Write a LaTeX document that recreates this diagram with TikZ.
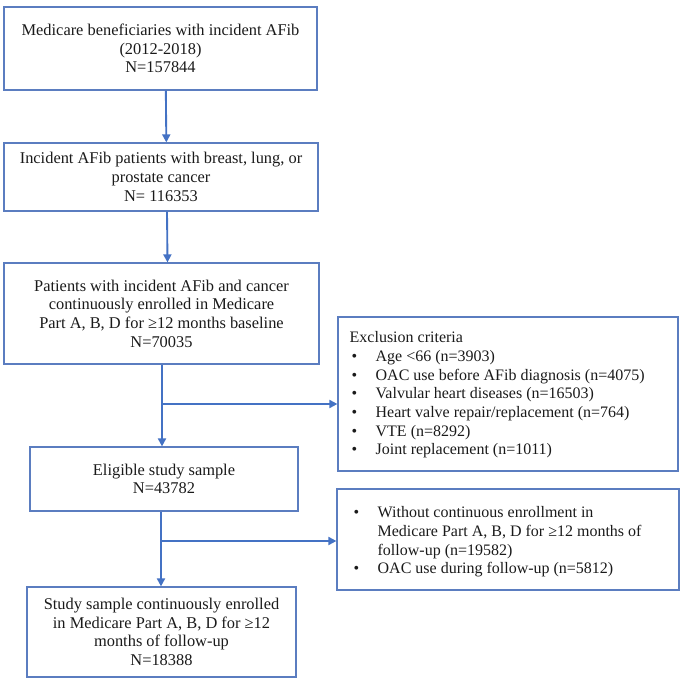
\documentclass[tikz,border=0pt]{standalone}
\usepackage{fontspec}
\setmainfont{Liberation Serif}
\usetikzlibrary{arrows.meta,positioning,calc}
\definecolor{ink}{HTML}{1A1A1A}
\definecolor{boxline}{HTML}{5B7DC0}
\definecolor{arrowblue}{HTML}{4472C4}
\newcommand{\exitem}[1]{\makebox[19.5pt][l]{\hspace{1.5pt}\textbullet}#1}
\tikzset{
  stagebox/.style={draw=boxline,line width=0.9pt,inner sep=0pt,
                   align=center,text=ink,font=\rmfamily\fontsize{12.3}{14}\selectfont},
  exclbox/.style={draw=boxline,line width=0.9pt,inner sep=0pt},
  excltext/.style={inner sep=0pt,align=left,anchor=north west,
                   text=ink,font=\rmfamily\fontsize{12}{14}\selectfont},
  flowarr/.style={-{Triangle[length=6pt,width=6pt]},line width=1.4pt,color=arrowblue}
}

\begin{document}
\begin{tikzpicture}[x=0.75pt,y=-0.75pt]
  \useasboundingbox (0,0) rectangle (685,684);

  % Main column
  \node[stagebox,minimum width=234.75pt,minimum height=62.25pt] (b1) at (160.5,48.5) {%
    Medicare beneficiaries with incident AFib\\(2012-2018)\\N=157844};
  \node[stagebox,minimum width=235.5pt,minimum height=51pt] (b2) at (161,177) {%
    Incident AFib patients with breast, lung, or\\prostate cancer\\N= 116353};
  \node[stagebox,minimum width=236.25pt,minimum height=75.75pt] (b3) at (161.5,313.5) {%
    Patients with incident AFib and cancer\\continuously enrolled in Medicare\\
    Part A, B, D for ≥12 months baseline\\N=70035};
  \node[stagebox,minimum width=201pt,minimum height=48pt] (b4) at (164,479) {%
    Eligible study sample\\N=43782};
  \node[stagebox,minimum width=201.75pt,minimum height=67.5pt] (b5) at (161.5,632) {%
    Study sample continuously enrolled\\in Medicare Part A, B, D for ≥12\\
    months of follow-up\\N=18388};

  % Exclusion boxes
  \node[exclbox,minimum width=255pt,minimum height=115.5pt] (ex1) at (508,394) {};
  \node[excltext] (ex1t) at ([shift={(9pt,-11.25pt)}]ex1.north west) {%
    Exclusion criteria\\
    \exitem{Age <66 (n=3903)}\\
    \exitem{OAC use before AFib diagnosis (n=4075)}\\
    \exitem{Valvular heart diseases (n=16503)}\\
    \exitem{Heart valve repair/replacement (n=764)}\\
    \exitem{VTE (n=8292)}\\
    \exitem{Joint replacement (n=1011)}};
  \node[exclbox,minimum width=256.5pt,minimum height=75.75pt] (ex2) at (508,539.5) {};
  \node[excltext] (ex2t) at ([shift={(11.25pt,-13.5pt)}]ex2.north west) {%
    \exitem{Without continuous enrollment in}\\
    \hspace*{19.5pt}Medicare Part A, B, D for ≥12 months of\\
    \hspace*{19.5pt}follow-up (n=19582)\\
    \exitem{OAC use during follow-up (n=5812)}};

  % Branch points
  \coordinate (j1) at (162,404);
  \coordinate (j2) at (161,541);

  % Arrows
  \draw[flowarr] ([xshift=4pt]b1.south) -- ([xshift=4pt]b2.north);
  \draw[flowarr] ([xshift=4.5pt]b2.south) -- ([xshift=4.5pt]b3.north);
  \draw[flowarr] (b3.south -| j1) -- (b4.north -| j1);
  \draw[flowarr] (j1) -- (j1 -| ex1.west);
  \draw[flowarr] (b4.south -| j2) -- (b5.north -| j2);
  \draw[flowarr] (j2) -- (j2 -| ex2.west);
\end{tikzpicture}
\end{document}
